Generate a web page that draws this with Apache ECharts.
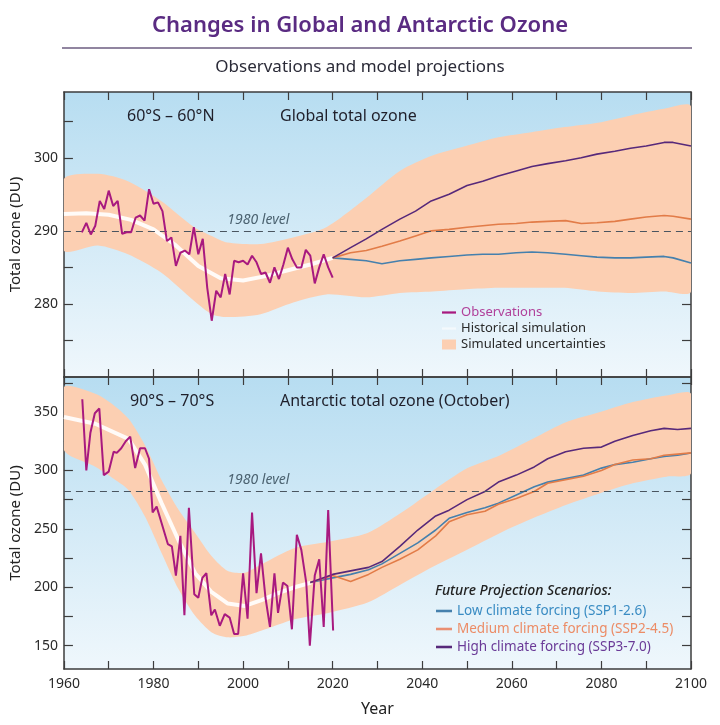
<!DOCTYPE html>
<html>
<head>
<meta charset="utf-8">
<title>Changes in Global and Antarctic Ozone</title>
<script src="https://cdn.jsdelivr.net/npm/echarts@6/dist/echarts.min.js"></script>
<style>
  html, body { margin: 0; padding: 0; background: #fff; }
  #main { width: 720px; height: 725px; }
</style>
</head>
<body>
<div id="main"></div>
<script>
// ---- data ----
// top panel: 60S-60N global total ozone (DU)
var topObsYears = [1964, 1965, 1966, 1967, 1968, 1969, 1970, 1971, 1972, 1973, 1974, 1975, 1976, 1977, 1978, 1979,
  1980, 1981, 1982, 1983, 1984, 1985, 1986, 1987, 1988, 1989, 1990, 1991, 1992, 1993, 1994, 1995, 1996, 1997, 1998,
  1999, 2000, 2001, 2002, 2003, 2004, 2005, 2006, 2007, 2008, 2009, 2010, 2011, 2012, 2013, 2014, 2015, 2016, 2017,
  2018, 2019, 2020];
var topObs = [289.8, 291.1, 289.5, 290.7, 294.1, 293.0, 295.5, 293.4, 294.1, 289.6, 289.8, 289.8, 291.8, 292.1,
  291.4, 295.7, 293.7, 293.9, 292.7, 288.6, 289.1, 285.2, 287.0, 287.3, 286.8, 290.5, 286.8, 288.9, 282.2, 277.7,
  281.8, 280.9, 284.1, 281.3, 285.9, 285.7, 285.9, 285.4, 286.6, 285.7, 284.1, 284.3, 282.9, 285.0, 283.4, 285.4,
  287.7, 286.1, 285.0, 285.0, 287.4, 286.6, 282.8, 285.0, 286.8, 285.0, 283.6];

var topHistYears = [1960, 1965, 1970, 1975, 1980, 1985, 1990, 1995, 2000, 2005, 2010, 2015, 2020];
var topHist = [292.3, 292.4, 292.2, 291.5, 290.2, 288.0, 285.2, 283.5, 283.2, 283.8, 284.6, 285.4, 286.3];

var topBandYears = [1960, 1967.6, 1974.3, 1981.7, 1989.1, 1993, 1996.5, 2003.9, 2011.2, 2018.6, 2027.5, 2035,
  2042.3, 2049.7, 2057, 2064.4, 2071.8, 2079.2, 2086.6, 2094, 2100];
var topBandHigh = [297.1, 297.8, 296.8, 294.1, 290.5, 289.3, 288.4, 288.2, 289.1, 290.5, 294.5, 298.2, 300.3,
  301.6, 302.8, 303.5, 304.2, 304.8, 305.8, 306.7, 307.0];
var topBandLow = [287.3, 288.0, 286.8, 284.3, 280.4, 278.6, 278.2, 278.6, 280.2, 281.3, 280.9, 281.5, 281.7,
  282.0, 282.2, 282.2, 282.2, 281.7, 281.5, 281.7, 281.7];

var topProjYears = [2020, 2024, 2027.5, 2031, 2035, 2038.5, 2042, 2046, 2050, 2053.5, 2057, 2061, 2064.5, 2068,
  2072, 2075.5, 2079, 2083, 2086.5, 2090, 2094, 2096, 2100];
var topSsp126 = [286.3, 286.1, 285.9, 285.5, 285.9, 286.1, 286.3, 286.5, 286.7, 286.8, 286.8, 287.0, 287.1, 287.0,
  286.8, 286.6, 286.4, 286.3, 286.3, 286.4, 286.5, 286.3, 285.6];
var topSsp245 = [286.3, 287.0, 287.3, 287.9, 288.6, 289.3, 290.0, 290.2, 290.5, 290.7, 290.9, 291.0, 291.2, 291.3,
  291.4, 291.0, 291.1, 291.3, 291.6, 291.9, 292.1, 292.0, 291.6];
var topSsp370 = [286.3, 287.7, 288.9, 290.2, 291.6, 292.7, 294.1, 295.0, 296.2, 296.8, 297.5, 298.2, 298.8, 299.2,
  299.6, 300.0, 300.5, 300.9, 301.3, 301.6, 302.1, 302.1, 301.6];

// bottom panel: 90S-70S Antarctic total ozone, October (DU)
var botObsYears = [1964.1, 1965.0, 1965.9, 1966.9, 1967.9, 1968.9, 1970.0, 1971.1, 1971.8, 1972.8, 1973.8, 1974.8,
  1975.9, 1977.0, 1978.1, 1979.0, 1979.8, 1980.7, 1981.8, 1983.2, 1984.1, 1985.0, 1986.0, 1986.9, 1987.9, 1989.1,
  1990.0, 1990.9, 1991.8, 1992.9, 1993.7, 1994.8, 1995.9, 1997.0, 1998.0, 1998.9, 2000.0, 2001.0, 2002.0, 2003.0,
  2004.0, 2005.0, 2006.0, 2007.0, 2007.8, 2008.9, 2009.9, 2010.9, 2012.0, 2013.0, 2014.1, 2014.9, 2016.0, 2017.0,
  2018.0, 2019.0, 2020.1];
var botObs = [361, 300, 332, 349, 353, 296, 299, 316, 315, 319, 325, 329, 302, 319, 319, 310, 264, 269, 255, 237,
  235, 210, 244, 176, 268, 194, 191, 208, 212, 176, 181, 167, 177, 174, 160, 160, 212, 173, 264, 195, 229, 191, 166,
  212, 178, 204, 201, 164, 245, 232, 204, 150, 210, 224, 166, 266, 163];

var botHistYears = [1960, 1967, 1974.4, 1978.1, 1981.8, 1985.6, 1989.3, 1992.9, 1996.6, 2000.4, 2004.1, 2007.8,
  2011.5, 2015.2];
var botHist = [345.7, 340, 327, 305, 272, 240, 212, 196, 186, 184, 189, 195, 200, 204];

var botBandYears = [1960, 1967, 1970.7, 1974.4, 1978.1, 1981.8, 1985.6, 1989.3, 1993, 1996.6, 2000.4, 2004, 2011.5,
  2019, 2027.8, 2035.2, 2042.6, 2050, 2057.4, 2064.8, 2072.2, 2079.7, 2087, 2094.5, 2100];
var botBandHigh = [371.3, 365.7, 357.2, 344.4, 321.6, 291.8, 266.3, 246.5, 226.5, 213.8, 212.4, 219.5, 233.7, 239,
  246.5, 263.5, 283.3, 301.8, 313.1, 327.4, 341.5, 350, 358.5, 364.2, 365.7];
var botBandLow = [317.4, 303.2, 294, 283.3, 260.6, 229.4, 198.2, 175.5, 161.3, 157.1, 158.4, 162.7, 172.6, 178,
  186.9, 202.4, 218, 232.2, 246.5, 259.2, 270.6, 280.5, 289, 294.7, 297.6];

var botProjYears = [2015, 2020, 2024, 2028, 2031, 2035, 2039, 2043, 2046, 2050, 2054, 2057, 2061, 2065, 2068, 2072,
  2076, 2080, 2083, 2087, 2091, 2094, 2097, 2100];
var botSsp126 = [204, 208, 211, 215, 220, 229, 238, 249, 259, 264, 268, 272, 279, 286, 290, 293, 296, 302, 305, 307,
  310, 312, 313, 315];
var botSsp245 = [204, 210, 205, 211, 217, 224, 232, 244, 256, 262, 265, 271, 276, 282, 289, 292, 295, 300, 305, 309,
  310, 313, 314, 315];
var botSsp370 = [204, 211, 214, 217, 222, 235, 249, 261, 266, 275, 282, 290, 296, 303, 310, 316, 319, 320, 325, 330,
  334, 336, 335, 336];

var level1980Top = 290;
var level1980Bot = 282;

var topLabelTicks = [280, 290, 300];
var topMinorTicks = [275, 280, 285, 290, 295, 300, 305];
var botLabelTicks = [150, 200, 250, 300, 350];
var botMinorTicks = [150, 175, 200, 225, 250, 275, 300, 325, 350, 375];

// ---- styling ----
var FONT = 'Noto Sans';
var C_OBS = '#a8197f';
var C_LOW = '#4580ad';
var C_MED = '#e27c48';
var C_HIGH = '#57297a';
var C_BAND = '#fccfb2';
var C_AXIS = '#3d3d3d';

var NAME_OBS = 'Observations';
var NAME_HIST = 'Historical simulation';
var NAME_BAND = 'Simulated uncertainties';
var NAME_LOW = 'Low climate forcing (SSP1-2.6)';
var NAME_MED = 'Medium climate forcing (SSP2-4.5)';
var NAME_HIGH = 'High climate forcing (SSP3-7.0)';

var DASH_ICON = 'path://M0,0H15V2.4H0Z';

function pairs(xs, ys) {
  return xs.map(function (x, i) { return [x, ys[i]]; });
}

function line(name, panel, xs, ys, color, width, z) {
  return {
    type: 'line', name: name,
    xAxisIndex: panel * 2, yAxisIndex: panel * 2,
    data: pairs(xs, ys),
    symbol: 'none', showSymbol: false,
    lineStyle: {color: color, width: width},
    itemStyle: {color: color},
    z: z, silent: true
  };
}

// uncertainty envelope as one polygon, placed through the axes with api.coord
function band(panel, xs, lo, hi) {
  return {
    type: 'custom', name: NAME_BAND,
    xAxisIndex: panel * 2, yAxisIndex: panel * 2,
    data: [[xs[0], lo[0]]],
    itemStyle: {color: C_BAND},
    z: 1, silent: true,
    renderItem: function (params, api) {
      var cs = params.coordSys;
      var pts = [];
      for (var i = 0; i < xs.length; i++) pts.push(api.coord([xs[i], hi[i]]));
      for (var j = xs.length - 1; j >= 0; j--) pts.push(api.coord([xs[j], lo[j]]));
      return {
        type: 'polygon',
        shape: {
          points: pts, smooth: 0.25,
          smoothConstraint: [[cs.x, cs.y], [cs.x + cs.width, cs.y + cs.height]]
        },
        style: {fill: C_BAND}
      };
    }
  };
}

function levelMarks(level) {
  return {
    markLine: {
      silent: true, symbol: ['none', 'none'],
      lineStyle: {type: [7, 5], color: '#4a5560', width: 1.2},
      label: {show: false},
      data: [{yAxis: level}]
    },
    markPoint: {
      silent: true, symbol: 'rect', symbolSize: 0,
      data: [{coord: [2003.4, level]}],
      label: {
        show: true, position: 'top', distance: 4, formatter: '1980 level',
        fontFamily: FONT, fontStyle: 'italic', fontSize: 14, color: '#4b6270'
      }
    }
  };
}

function hist(panel, xs, ys, level) {
  var s = line(NAME_HIST, panel, xs, ys, 'rgba(255,255,255,0.9)', 4, 3);
  var m = levelMarks(level);
  s.markLine = m.markLine;
  s.markPoint = m.markPoint;
  return s;
}

var panelBg = {
  type: 'linear', x: 0, y: 0, x2: 0, y2: 1,
  colorStops: [{offset: 0, color: '#b7ddf1'}, {offset: 1, color: '#eff7fc'}]
};

function xAxes(gridIndex, withLabels) {
  var base = {
    type: 'value', gridIndex: gridIndex, min: 1960, max: 2100, interval: 10,
    axisLine: {show: true, lineStyle: {color: C_AXIS, width: 1.5}},
    axisTick: {show: true, inside: true, length: 8, lineStyle: {color: C_AXIS, width: 1.2}},
    splitLine: {show: false}
  };
  var bottom = Object.assign({}, base, {
    position: 'bottom',
    axisLabel: {
      show: withLabels, color: '#2a2a2a', fontFamily: FONT, fontSize: 14, margin: 8,
      formatter: function (v) { return v % 20 === 0 ? String(v) : ''; }
    }
  });
  if (withLabels) {
    bottom.name = 'Year';
    bottom.nameLocation = 'middle';
    bottom.nameGap = 32;
    bottom.nameTextStyle = {color: '#222', fontFamily: FONT, fontSize: 16};
  }
  var top = Object.assign({}, base, {position: 'top', axisLabel: {show: false}});
  return [bottom, top];
}

function yAxes(gridIndex, min, max, labels, ticks) {
  var base = {
    type: 'value', gridIndex: gridIndex, min: min, max: max,
    axisLine: {show: true, lineStyle: {color: C_AXIS, width: 1.5}},
    axisTick: {show: true, inside: true, length: 9, customValues: ticks, lineStyle: {color: C_AXIS, width: 1.2}},
    splitLine: {show: false}
  };
  var left = Object.assign({}, base, {
    position: 'left',
    name: 'Total ozone (DU)', nameLocation: 'middle', nameGap: 32,
    nameTextStyle: {color: '#222', fontFamily: FONT, fontSize: 15},
    axisLabel: {customValues: labels, color: '#2a2a2a', fontFamily: FONT, fontSize: 14, margin: 6}
  });
  var right = Object.assign({}, base, {position: 'right', axisLabel: {show: false}});
  return [left, right];
}

var titleText = {fontFamily: FONT, fontSize: 16, fontWeight: 400, color: '#1f1f2a'};

var option = {
  backgroundColor: '#ffffff',
  animation: false,
  title: [
    {text: 'Changes in Global and Antarctic Ozone', left: 'center', top: 15, padding: 0,
      textStyle: {fontFamily: FONT, fontSize: 22, fontWeight: 600, color: '#5a2b82'}},
    {text: 'Observations and model projections', left: 'center', top: 59, padding: 0,
      textStyle: {fontFamily: FONT, fontSize: 17, fontWeight: 400, color: '#2b2b38'}},
    {text: '60°S – 60°N', left: 127, top: 108, padding: 0, textStyle: titleText},
    {text: 'Global total ozone', left: 280, top: 108, padding: 0, textStyle: titleText},
    {text: '90°S – 70°S', left: 130, top: 393, padding: 0, textStyle: titleText},
    {text: 'Antarctic total ozone (October)', left: 280, top: 393, padding: 0, textStyle: titleText},
    {text: 'Future Projection Scenarios:', left: 435, top: 584, padding: 0,
      textStyle: {fontFamily: FONT, fontSize: 14, fontStyle: 'italic', fontWeight: 500, color: '#222'}}
  ],
  graphic: [{
    type: 'line', silent: true,
    shape: {x1: 62, y1: 48, x2: 692, y2: 48},
    style: {stroke: '#6c5c80', lineWidth: 1.5}
  }],
  legend: [{
    orient: 'vertical', left: 442, top: 306, padding: 0,
    itemWidth: 14, itemHeight: 10, itemGap: 3, selectedMode: false,
    textStyle: {fontFamily: FONT, fontSize: 13, color: '#2a2a2a'},
    data: [
      {name: NAME_OBS, icon: DASH_ICON, itemStyle: {color: C_OBS}, textStyle: {color: '#b0409a'}},
      {name: NAME_HIST, icon: DASH_ICON, itemStyle: {color: '#f4f9fc'}},
      {name: NAME_BAND, icon: 'rect', itemStyle: {color: C_BAND}}
    ]
  }, {
    orient: 'vertical', left: 436, top: 604, padding: 0,
    itemWidth: 16, itemHeight: 10, itemGap: 4, selectedMode: false,
    textStyle: {fontFamily: FONT, fontSize: 13.5},
    data: [
      {name: NAME_LOW, icon: DASH_ICON, itemStyle: {color: C_LOW}, textStyle: {color: '#3a8cc3'}},
      {name: NAME_MED, icon: DASH_ICON, itemStyle: {color: '#ea8f72'}, textStyle: {color: '#ec8c66'}},
      {name: NAME_HIGH, icon: DASH_ICON, itemStyle: {color: C_HIGH}, textStyle: {color: '#6a3a97'}}
    ]
  }],
  grid: [
    {left: 62, right: 29, top: 92, height: 285, show: true, backgroundColor: panelBg, borderWidth: 0},
    {left: 62, right: 29, top: 377, height: 292, show: true, backgroundColor: panelBg, borderWidth: 0}
  ],
  xAxis: xAxes(0, false).concat(xAxes(1, true)),
  yAxis: yAxes(0, 270, 309, topLabelTicks, topMinorTicks).concat(yAxes(1, 130, 380, botLabelTicks, botMinorTicks)),
  series: [
    band(0, topBandYears, topBandLow, topBandHigh),
    band(1, botBandYears, botBandLow, botBandHigh),
    hist(0, topHistYears, topHist, level1980Top),
    hist(1, botHistYears, botHist, level1980Bot),
    line(NAME_LOW, 0, topProjYears, topSsp126, C_LOW, 1.6, 4),
    line(NAME_MED, 0, topProjYears, topSsp245, C_MED, 1.6, 4),
    line(NAME_HIGH, 0, topProjYears, topSsp370, C_HIGH, 1.6, 4),
    line(NAME_LOW, 1, botProjYears, botSsp126, C_LOW, 1.6, 4),
    line(NAME_MED, 1, botProjYears, botSsp245, C_MED, 1.6, 4),
    line(NAME_HIGH, 1, botProjYears, botSsp370, C_HIGH, 1.6, 4),
    line(NAME_OBS, 0, topObsYears, topObs, C_OBS, 2, 5),
    line(NAME_OBS, 1, botObsYears, botObs, C_OBS, 2, 5)
  ]
};

var chart = echarts.init(document.getElementById('main'));
chart.setOption(option);
</script>
</body>
</html>
